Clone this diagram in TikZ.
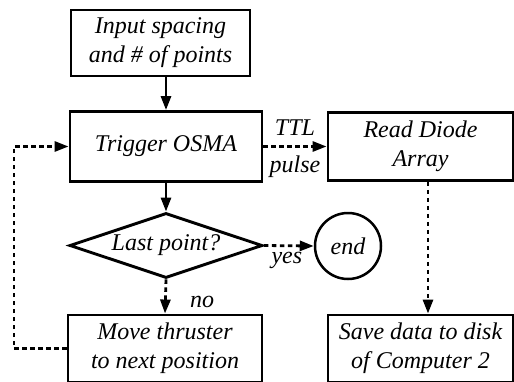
\documentclass[tikz,border=0pt]{standalone}
\usepackage{fontspec}
\setmainfont{Liberation Serif}
\usetikzlibrary{arrows.meta,shapes.geometric}
\tikzset{
  lbl/.style={font=\fontsize{24}{29}\selectfont\itshape},
  boxnode/.style={draw, line width=2.9pt, rectangle, inner sep=0pt, align=center, lbl},
  solidarrow/.style={line width=2.8pt, -{Triangle[length=14pt,width=10pt]}},
  dasharrow/.style={line width=2.8pt, dash pattern=on 4.5pt off 3.5pt, -{Triangle[length=14pt,width=10pt]}},
}
\begin{document}
\begin{tikzpicture}[x=1pt,y=-1pt]
\useasboundingbox (0,0) rectangle (514,381);
\node[boxnode, minimum width=179pt, minimum height=66pt] (input) at (160.5,43) {Input spacing\\and \# of points};
\node[boxnode, minimum width=192pt, minimum height=70pt] (trigger) at (166,146.5) {Trigger OSMA};
\node[boxnode, minimum width=185pt, minimum height=68pt] (read) at (420.5,146.5) {Read Diode\\Array};
\node[draw, diamond, line width=2.9pt, inner sep=0pt, aspect=3, minimum width=193pt, minimum height=65pt, lbl] (last) at (166,245.5) {Last point?};
\node[draw, circle, line width=2.5pt, minimum size=66pt, inner sep=0pt, lbl] (end) at (348,246) {end};
\node[boxnode, minimum width=194pt, minimum height=67pt] (move) at (165,348.5) {Move thruster\\to next position};
\node[boxnode, minimum width=185pt, minimum height=67pt] (save) at (420.5,348.5) {Save data to disk\\of Computer 2};
\coordinate (lc) at (14,250);
\coordinate (rs) at (428,250);

\draw[solidarrow] (trigger.north |- input.south) -- (trigger.north);
\draw[solidarrow] (trigger.south) -- (last.north);
\draw[dasharrow] (last.south) -- (move.north) node[pos=0.65, right=20pt, lbl] {no};
\draw[dasharrow] (last.east) -- (end.west) node[midway, below=2pt, xshift=-2pt, lbl] {yes};
\draw[dasharrow] (trigger.east) -- (read.west)
  node[midway, above=6pt, lbl] {TTL}
  node[midway, below=5pt, lbl] {pulse};
\draw[dasharrow] (read.south -| rs) -- (save.north -| rs);
\draw[dasharrow] (move.west) -- (move.west -| lc) -- (trigger.west -| lc) -- (trigger.west);
\end{tikzpicture}
\end{document}
